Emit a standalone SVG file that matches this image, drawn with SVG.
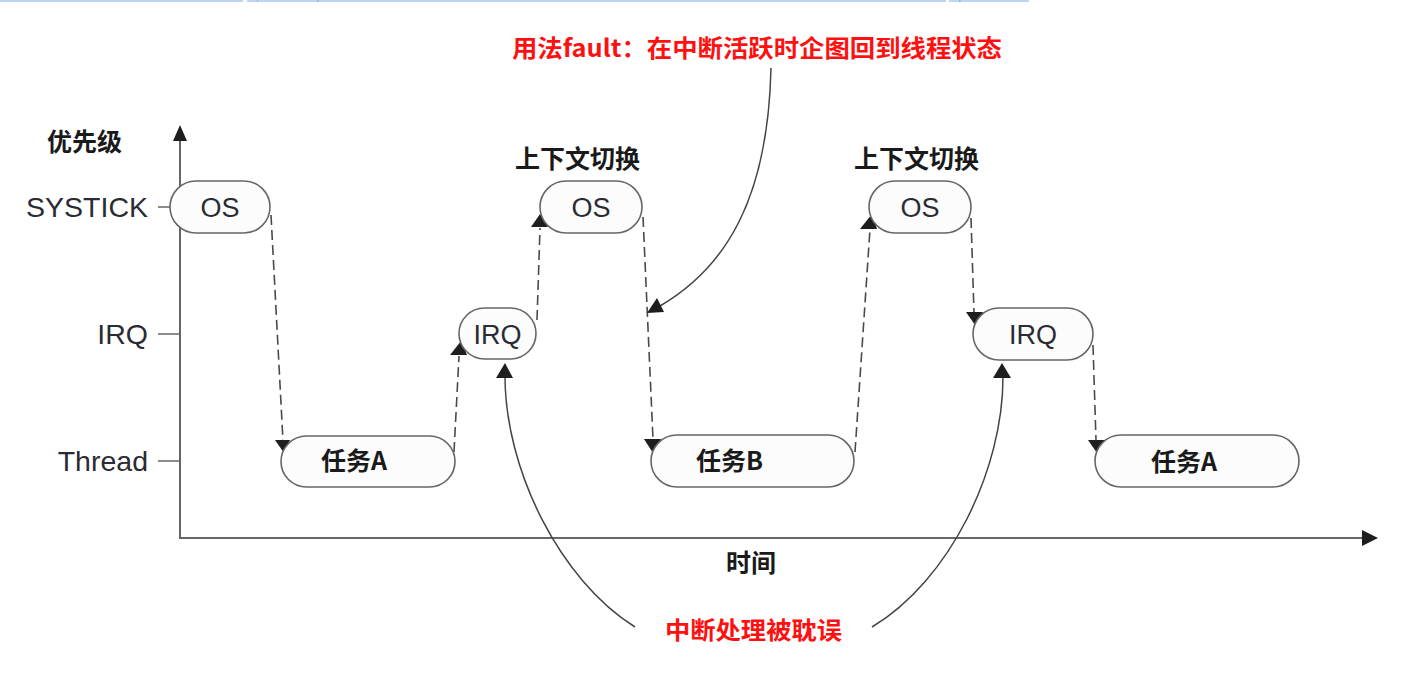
<svg xmlns="http://www.w3.org/2000/svg" width="1403" height="682" viewBox="0 0 1403 682">
<style>
.bar{fill:#bcd5f2}
.barmark{fill:#8fb4e6}
.axis{stroke:#666;stroke-width:2;fill:none}
.tick{stroke:#666;stroke-width:1.5;fill:none}
.head{fill:#1e1e1e}
.dash{stroke:#4a4a4a;stroke-width:1.6;stroke-dasharray:10 5;fill:none}
.curve{stroke:#444;stroke-width:1.5;fill:none}
.node{fill:#fcfcfc;stroke:#666;stroke-width:1.6}
.lat{font-family:"Liberation Sans",Arial,sans-serif;font-size:27px;fill:#2b2b33}
.axl{font-family:"Liberation Sans",Arial,sans-serif;font-size:28.5px;fill:#2b2b33}
.cjk{font-family:"Noto Sans CJK SC","Liberation Sans",sans-serif;font-weight:bold;font-size:25px;fill:#1a1a1a}
.red{font-family:"Noto Sans CJK SC","Liberation Sans",sans-serif;font-weight:bold;font-size:24px;fill:#ff1010}
</style>
<rect width="1403" height="682" fill="#ffffff"/>
<g id="topbar">
<rect class="bar" x="0" y="0" width="243" height="2"/>
<rect class="bar" x="247" y="0" width="699" height="2"/>
<rect class="bar" x="949" y="0" width="80" height="2"/>
<rect class="barmark" x="257" y="0" width="1" height="2"/>
<rect class="barmark" x="317" y="0" width="1.5" height="2"/>
<rect class="barmark" x="959" y="0" width="1.5" height="2"/>
</g>
<g id="axes">
<line class="axis" x1="180" y1="138" x2="180" y2="538"/>
<line class="axis" x1="179" y1="538" x2="1364" y2="538"/>
<polygon class="head" points="180,125 173,141 187,141"/>
<polygon class="head" points="1378,538 1362,530 1362,546"/>
<line class="tick" x1="158" y1="207" x2="180" y2="207"/>
<line class="tick" x1="158" y1="334" x2="180" y2="334"/>
<line class="tick" x1="158" y1="461" x2="180" y2="461"/>
<text class="cjk" x="47" y="151">优先级</text>
<text class="axl" x="148" y="217" text-anchor="end">SYSTICK</text>
<text class="axl" x="148" y="344" text-anchor="end">IRQ</text>
<text class="axl" x="148" y="471" text-anchor="end">Thread</text>
<text class="cjk" x="751" y="572" text-anchor="middle">时间</text>
</g>
<g id="connectors">
<line class="dash" x1="271" y1="215" x2="283" y2="441"/>
<polygon class="head" points="275,440 290,440 284,453"/>
<line class="dash" x1="454" y1="452" x2="459" y2="356"/>
<polygon class="head" points="450,355 467,355 461,341"/>
<line class="dash" x1="537" y1="320" x2="540" y2="228"/>
<polygon class="head" points="531,227 548,227 540,214"/>
<line class="dash" x1="643" y1="217" x2="653" y2="439"/>
<polygon class="head" points="644,439 661,439 653,453"/>
<line class="dash" x1="855" y1="452" x2="870" y2="229"/>
<polygon class="head" points="860,229 877,229 872,214"/>
<line class="dash" x1="971" y1="218" x2="974" y2="313"/>
<polygon class="head" points="966,312 983,312 975,325"/>
<line class="dash" x1="1093" y1="345" x2="1096" y2="440"/>
<polygon class="head" points="1088,440 1105,440 1097,453"/>
<path class="curve" d="M771,68 C768,200 725,268 660,306"/>
<polygon class="head" points="647,313 664,312 657,298"/>
<path class="curve" d="M635,627 C560,580 505,470 505,376"/>
<polygon class="head" points="496,378 513,378 505,363"/>
<path class="curve" d="M872,627 C950,580 1003,470 1003,377"/>
<polygon class="head" points="993,378 1011,378 1002,363"/>
</g>
<g id="node-os1">
<rect class="node" x="170" y="181" width="100" height="52" rx="26"/>
<text class="lat" x="220" y="217" text-anchor="middle">OS</text>
</g>
<g id="node-taskA1">
<rect class="node" x="281" y="436" width="174" height="51" rx="25.5"/>
<text class="cjk" x="321" y="470">任务A</text>
</g>
<g id="node-irq1">
<rect class="node" x="459" y="308" width="77" height="51" rx="25.5"/>
<text class="lat" x="497.5" y="344" text-anchor="middle">IRQ</text>
</g>
<g id="node-os2">
<rect class="node" x="540" y="181" width="102" height="52" rx="26"/>
<text class="lat" x="591" y="217" text-anchor="middle">OS</text>
<text class="cjk" x="515" y="168">上下文切换</text>
</g>
<g id="node-taskB">
<rect class="node" x="651" y="435" width="203" height="52" rx="26"/>
<text class="cjk" x="696" y="470">任务B</text>
</g>
<g id="node-os3">
<rect class="node" x="869" y="181" width="102" height="52" rx="26"/>
<text class="lat" x="920" y="217" text-anchor="middle">OS</text>
<text class="cjk" x="854" y="168">上下文切换</text>
</g>
<g id="node-irq2">
<rect class="node" x="973" y="308" width="120" height="52" rx="26"/>
<text class="lat" x="1033" y="344" text-anchor="middle">IRQ</text>
</g>
<g id="node-taskA2">
<rect class="node" x="1095" y="435" width="204" height="52" rx="26"/>
<text class="cjk" x="1151" y="471">任务A</text>
</g>
<g id="notes">
<text class="red" x="512" y="57" textLength="490" lengthAdjust="spacingAndGlyphs">用法fault：在中断活跃时企图回到线程状态</text>
<text class="red" x="665" y="639" textLength="177" lengthAdjust="spacingAndGlyphs">中断处理被耽误</text>
</g>
</svg>
